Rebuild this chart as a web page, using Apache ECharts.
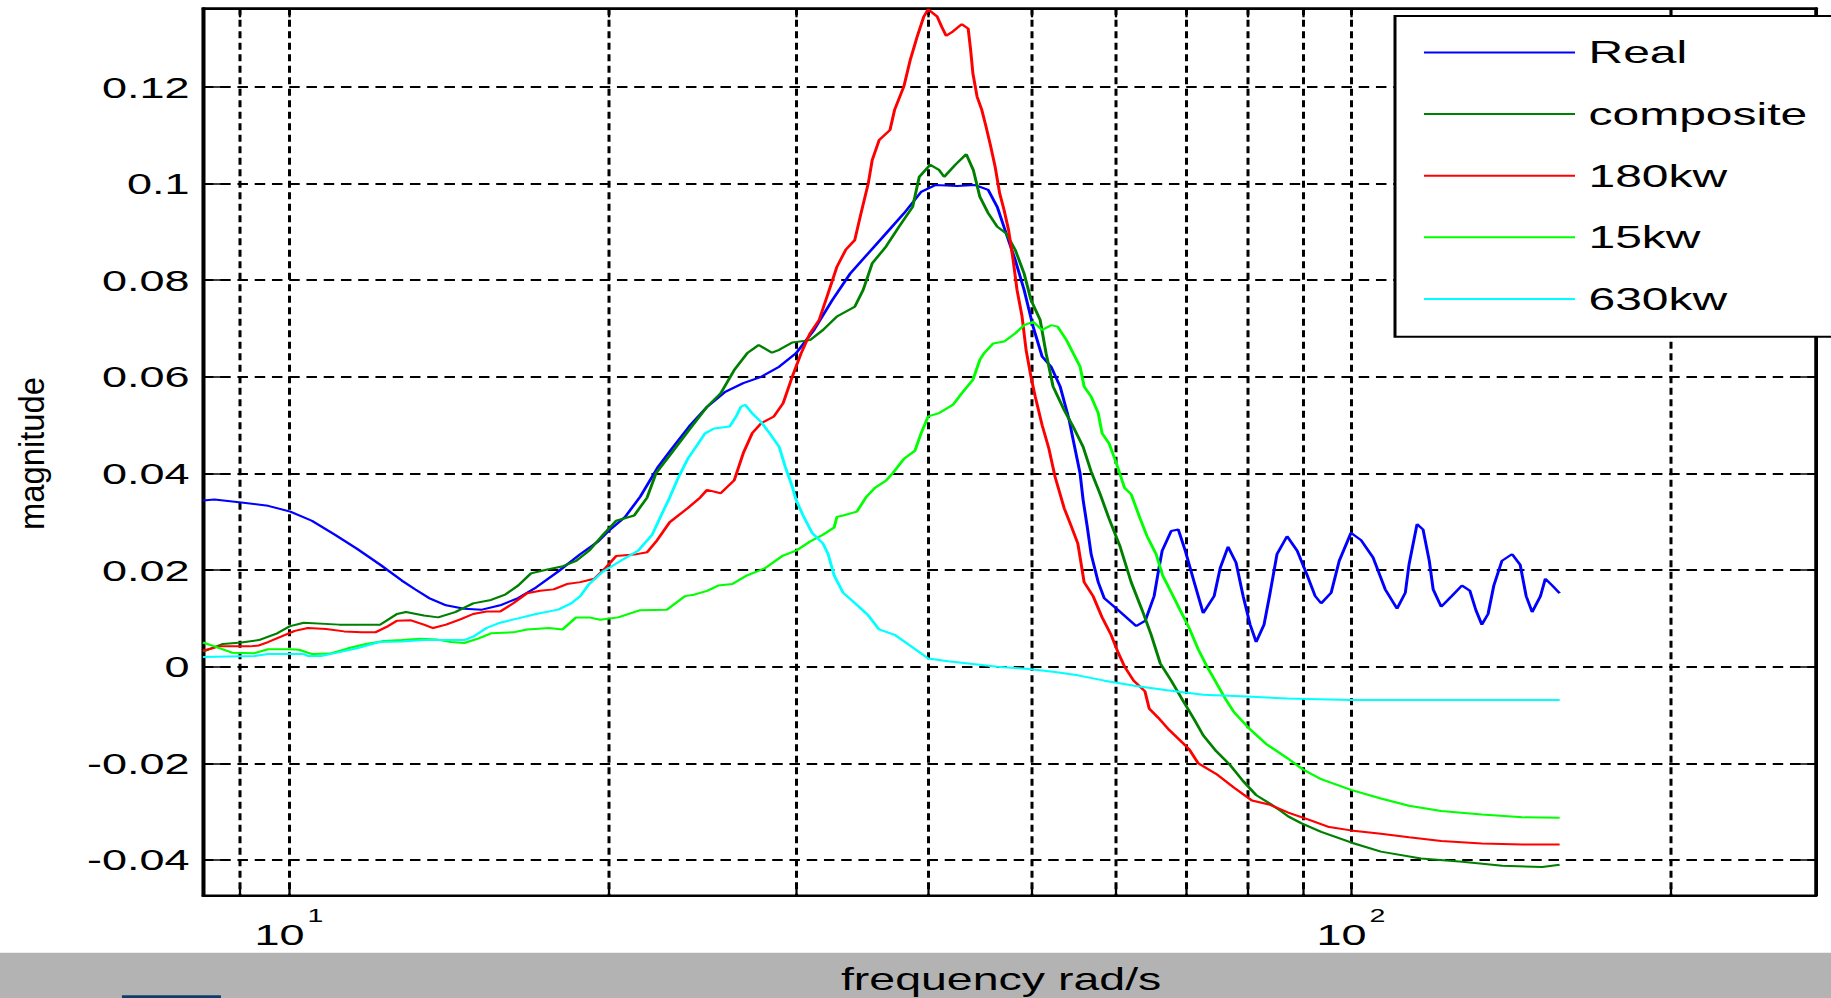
<!DOCTYPE html>
<html>

<head>
    <meta charset="utf-8" />
    <title>magnitude</title>
    <script src="https://cdn.jsdelivr.net/npm/echarts@6.0.0/dist/echarts.min.js"></script>
    <style>
        html,
        body {
            margin: 0;
            padding: 0;
            background: #fff;
            overflow: hidden;
        }

        /* the original picture is stretched sideways, so the chart is drawn narrow and widened */
        #main {
            width: 1221px;
            height: 998px;
            transform: scaleX(1.5);
            transform-origin: 0 0;
        }
    </style>
</head>

<body>
    <div id="main"></div>
</body>

<script>
    // axis ticks
    var xGridTicks = [9, 10, 20, 30, 40, 50, 60, 70, 80, 90, 100, 200];
    var xLabelTicks = [10, 100];
    var xLabelExp = ['1', '2'];
    var yTicks = [-0.04, -0.02, 0, 0.02, 0.04, 0.06, 0.08, 0.1, 0.12];

    // [frequency rad/s, magnitude]
    var realData = [
        [8.30, 0.0344], [8.51, 0.0346], [9.02, 0.0340], [9.56, 0.0333], [10.03, 0.0321], [10.51, 0.0302],
        [11.05, 0.0273], [11.59, 0.0244], [12.19, 0.0211], [12.78, 0.0178], [13.15, 0.0160], [13.55, 0.0142],
        [14.06, 0.0127], [14.62, 0.0120], [15.20, 0.0118], [15.81, 0.0127], [16.44, 0.0142], [17.09, 0.0164],
        [17.93, 0.0197], [18.81, 0.0233], [19.55, 0.0259], [20.0, 0.0281], [20.73, 0.0310], [21.42, 0.0352],
        [22.27, 0.0414], [22.90, 0.0449], [23.81, 0.0497], [24.76, 0.0538], [25.75, 0.0569], [26.78, 0.0587],
        [27.84, 0.0600], [28.95, 0.0621], [30.03, 0.0649], [31.22, 0.0697], [32.48, 0.0759], [33.77, 0.0814],
        [35.12, 0.0856], [36.50, 0.0897], [37.96, 0.0939], [39.38, 0.0983], [40.60, 0.0997], [42.58, 0.0995],
        [44.29, 0.0997], [45.54, 0.0987], [46.44, 0.0952], [47.35, 0.0897], [48.29, 0.0842], [49.23, 0.0780],
        [50.20, 0.0704], [51.19, 0.0642], [52.20, 0.0621], [53.23, 0.0580], [54.28, 0.0511], [54.75, 0.0470],
        [55.58, 0.0400], [55.95, 0.0345], [56.44, 0.0291], [56.93, 0.0233], [57.81, 0.0175], [58.56, 0.0142],
        [60.37, 0.0117], [62.78, 0.0084], [64.02, 0.0095], [65.26, 0.0146], [65.86, 0.0197], [66.41, 0.0240],
        [67.72, 0.0281], [68.77, 0.0284], [69.82, 0.0240], [71.18, 0.0175], [72.58, 0.0111], [74.33, 0.0146],
        [75.31, 0.0204], [76.61, 0.0248], [77.95, 0.0215], [79.15, 0.0146], [80.36, 0.0087], [81.42, 0.0051],
        [82.82, 0.0087], [83.92, 0.0153], [85.18, 0.0233], [87.06, 0.0270], [88.99, 0.0240], [90.94, 0.0189],
        [92.54, 0.0146], [93.74, 0.0131], [95.79, 0.0153], [97.48, 0.0219], [100.0, 0.0277], [102.2, 0.0262],
        [104.9, 0.0226], [107.7, 0.0160], [110.5, 0.0120], [112.5, 0.0153], [113.4, 0.0211], [115.4, 0.0295],
        [116.9, 0.0284], [118.5, 0.0219], [119.5, 0.0160], [121.6, 0.0124], [124.4, 0.0146], [127.2, 0.0168],
        [129.4, 0.0157], [131.1, 0.0117], [132.8, 0.0087], [134.6, 0.0109], [136.3, 0.0168], [138.7, 0.0219],
        [141.8, 0.0233], [144.3, 0.0211], [146.2, 0.0146], [148.1, 0.0113], [150.8, 0.0146], [152.4, 0.0182],
        [154.7, 0.0168], [157.2, 0.0152]
    ];

    var compositeData = [
        [8.30, 0.0031], [8.67, 0.0047], [9.02, 0.0050], [9.37, 0.0055], [9.75, 0.0069], [10.03, 0.0084],
        [10.33, 0.0091], [11.15, 0.0087], [12.19, 0.0087], [12.64, 0.0109], [12.89, 0.0113], [13.40, 0.0106],
        [13.82, 0.0102], [14.34, 0.0113], [14.91, 0.0131], [15.50, 0.0138], [15.98, 0.0149], [16.44, 0.0168],
        [16.90, 0.0193], [17.43, 0.0200], [18.12, 0.0208], [18.64, 0.0219], [19.17, 0.0240], [19.76, 0.0273],
        [20.33, 0.0302], [21.14, 0.0313], [21.74, 0.0350], [22.17, 0.0401], [22.83, 0.0437], [23.81, 0.0490],
        [24.76, 0.0538], [25.50, 0.0566], [26.26, 0.0614], [27.01, 0.0649], [27.69, 0.0666], [28.50, 0.0650],
        [28.95, 0.0656], [29.78, 0.0671], [30.95, 0.0676], [31.83, 0.0697], [32.81, 0.0725], [34.10, 0.0745],
        [34.73, 0.0780], [35.42, 0.0835], [36.50, 0.0870], [37.54, 0.0911], [38.66, 0.0952], [39.22, 0.1014],
        [40.16, 0.1039], [40.95, 0.1028], [41.40, 0.1014], [42.41, 0.1039], [43.43, 0.1061], [44.10, 0.1028],
        [44.72, 0.0973], [45.54, 0.0939], [46.44, 0.0911], [47.35, 0.0897], [48.29, 0.0863], [49.23, 0.0814],
        [49.97, 0.0759], [50.97, 0.0718], [51.63, 0.0649], [52.42, 0.0580], [53.70, 0.0531], [54.75, 0.0497],
        [55.95, 0.0455], [56.93, 0.0404], [58.06, 0.0357], [59.19, 0.0306], [60.63, 0.0248], [62.09, 0.0175],
        [63.59, 0.0117], [64.84, 0.0066], [66.13, 0.0007], [67.72, -0.0029], [69.58, -0.0073], [71.18, -0.0109],
        [72.58, -0.0142], [74.66, -0.0175], [76.97, -0.0204], [79.15, -0.0237], [81.42, -0.0266], [83.92, -0.0284],
        [85.94, -0.0299], [87.27, -0.0310], [89.74, -0.0324], [93.74, -0.0342], [100.0, -0.0364], [106.7, -0.0383],
        [116.4, -0.0397], [127.3, -0.0404], [138.8, -0.0412], [151.4, -0.0415], [157.2, -0.0410]
    ];

    var kw180Data = [
        [8.30, 0.0033], [8.60, 0.0042], [9.19, 0.0042], [9.37, 0.0044], [9.56, 0.0051], [9.83, 0.0062],
        [10.13, 0.0074], [10.42, 0.0080], [10.84, 0.0078], [11.27, 0.0073], [11.71, 0.0071], [12.06, 0.0071],
        [12.40, 0.0084], [12.64, 0.0095], [13.03, 0.0096], [13.40, 0.0087], [13.67, 0.0080], [14.06, 0.0087],
        [14.50, 0.0098], [14.91, 0.0109], [15.35, 0.0114], [15.81, 0.0114], [16.26, 0.0131], [16.76, 0.0152],
        [17.24, 0.0157], [17.75, 0.0160], [18.27, 0.0171], [18.81, 0.0175], [19.39, 0.0182], [19.86, 0.0204],
        [20.33, 0.0229], [21.14, 0.0232], [21.74, 0.0237], [22.17, 0.0259], [22.83, 0.0299], [23.74, 0.0328],
        [24.39, 0.0350], [24.76, 0.0366], [25.50, 0.0359], [26.26, 0.0386], [26.78, 0.0442], [27.30, 0.0483],
        [27.84, 0.0504], [28.62, 0.0518], [29.19, 0.0545], [29.78, 0.0600], [30.36, 0.0649], [30.95, 0.0690],
        [31.57, 0.0718], [32.19, 0.0773], [32.81, 0.0828], [33.44, 0.0863], [34.10, 0.0883], [34.57, 0.0939],
        [35.12, 0.1001], [35.42, 0.1049], [35.95, 0.1090], [36.81, 0.1111], [37.18, 0.1153], [37.93, 0.1201],
        [38.46, 0.1256], [39.04, 0.1304], [39.61, 0.1346], [39.98, 0.1361], [40.77, 0.1346], [41.17, 0.1325],
        [41.58, 0.1306], [42.19, 0.1315], [43.01, 0.1330], [43.61, 0.1321], [43.84, 0.1277], [44.06, 0.1228],
        [44.46, 0.1180], [44.91, 0.1153], [45.33, 0.1118], [45.79, 0.1077], [46.23, 0.1035], [46.69, 0.0980],
        [47.14, 0.0945], [47.60, 0.0904], [48.07, 0.0842], [48.48, 0.0780], [49.01, 0.0725], [49.44, 0.0656],
        [49.97, 0.0600], [50.42, 0.0560], [51.19, 0.0500], [51.94, 0.0452], [52.65, 0.0393], [53.70, 0.0328],
        [54.52, 0.0291], [55.31, 0.0255], [56.07, 0.0175], [57.17, 0.0146], [58.30, 0.0102], [59.44, 0.0066],
        [60.37, 0.0029], [61.21, 0.0000], [62.42, -0.0029], [63.97, -0.0051], [64.57, -0.0087], [65.86, -0.0106],
        [67.42, -0.0131], [69.58, -0.0160], [70.41, -0.0171], [71.80, -0.0200], [74.66, -0.0222], [77.65, -0.0251],
        [80.67, -0.0277], [83.92, -0.0286], [87.27, -0.0302], [91.36, -0.0317], [95.39, -0.0332], [100.0, -0.0339],
        [106.7, -0.0346], [113.4, -0.0353], [121.6, -0.0361], [132.8, -0.0366], [145.0, -0.0368], [157.2, -0.0368]
    ];

    var kw15Data = [
        [8.30, 0.0050], [8.51, 0.0042], [8.84, 0.0029], [9.28, 0.0028], [9.56, 0.0036], [10.03, 0.0036],
        [10.22, 0.0035], [10.52, 0.0026], [10.93, 0.0027], [11.37, 0.0038], [11.82, 0.0047], [12.29, 0.0053],
        [12.78, 0.0055], [13.29, 0.0058], [13.80, 0.0056], [14.21, 0.0051], [14.62, 0.0049], [15.07, 0.0058],
        [15.50, 0.0069], [16.26, 0.0071], [16.76, 0.0077], [17.58, 0.0080], [18.10, 0.0077], [18.64, 0.0102],
        [19.17, 0.0102], [19.64, 0.0097], [20.42, 0.0102], [21.42, 0.0117], [22.70, 0.0118], [23.60, 0.0146],
        [24.07, 0.0149], [24.76, 0.0157], [25.37, 0.0168], [26.15, 0.0171], [27.01, 0.0189], [28.08, 0.0204],
        [29.19, 0.0230], [30.03, 0.0240], [30.95, 0.0259], [31.83, 0.0273], [32.61, 0.0288], [32.81, 0.0310],
        [33.25, 0.0313], [34.26, 0.0321], [34.93, 0.0350], [35.61, 0.0370], [36.48, 0.0385], [37.01, 0.0400],
        [37.93, 0.0430], [38.85, 0.0447], [39.38, 0.0483], [39.98, 0.0518], [40.95, 0.0525], [42.19, 0.0542],
        [43.01, 0.0566], [44.06, 0.0594], [44.72, 0.0635], [45.14, 0.0649], [46.03, 0.0669], [47.14, 0.0673],
        [48.29, 0.0690], [49.23, 0.0707], [50.20, 0.0714], [51.19, 0.0697], [52.20, 0.0707], [52.94, 0.0704],
        [53.97, 0.0676], [54.75, 0.0649], [55.58, 0.0621], [56.07, 0.0580], [56.93, 0.0559], [57.81, 0.0525],
        [58.30, 0.0483], [59.19, 0.0462], [59.70, 0.0440], [60.37, 0.0410], [61.21, 0.0370], [62.09, 0.0357],
        [63.32, 0.0306], [64.27, 0.0270], [65.54, 0.0233], [66.47, 0.0189], [67.76, 0.0153], [69.05, 0.0117],
        [70.41, 0.0080], [71.80, 0.0036], [73.19, 0.0000], [74.66, -0.0033], [76.14, -0.0066], [77.65, -0.0095],
        [80.36, -0.0130], [83.20, -0.0160], [87.06, -0.0189], [90.13, -0.0213], [93.74, -0.0233], [100.0, -0.0255],
        [106.7, -0.0273], [113.4, -0.0288], [121.6, -0.0299], [132.8, -0.0306], [145.0, -0.0312], [157.2, -0.0313]
    ];

    var kw630Data = [
        [8.30, 0.0020], [9.28, 0.0022], [9.56, 0.0026], [10.33, 0.0026], [10.42, 0.0022], [10.72, 0.0022],
        [11.05, 0.0028], [11.59, 0.0038], [12.17, 0.0051], [12.78, 0.0052], [13.40, 0.0055], [14.06, 0.0055],
        [14.62, 0.0055], [14.91, 0.0062], [15.35, 0.0080], [15.81, 0.0091], [16.44, 0.0100], [17.09, 0.0109],
        [17.93, 0.0118], [18.44, 0.0131], [18.81, 0.0146], [19.17, 0.0171], [19.76, 0.0197], [20.53, 0.0219],
        [21.32, 0.0240], [21.98, 0.0273], [22.41, 0.0313], [22.83, 0.0350], [23.28, 0.0393], [23.74, 0.0430],
        [24.17, 0.0455], [24.65, 0.0483], [25.14, 0.0493], [26.00, 0.0497], [26.37, 0.0518], [26.64, 0.0538],
        [26.89, 0.0542], [27.29, 0.0525], [27.82, 0.0507], [28.36, 0.0483], [28.95, 0.0455], [29.33, 0.0414],
        [29.78, 0.0373], [30.03, 0.0345], [30.49, 0.0313], [31.09, 0.0277], [31.83, 0.0255], [32.19, 0.0233],
        [32.61, 0.0189], [33.25, 0.0153], [34.26, 0.0128], [35.12, 0.0106], [35.95, 0.0077], [37.18, 0.0066],
        [38.66, 0.0040], [39.98, 0.0017], [41.75, 0.0011], [43.84, 0.0006], [46.44, 0.0000], [49.72, -0.0005],
        [52.65, -0.0011], [55.31, -0.0018], [58.61, -0.0029], [62.73, -0.0040], [67.14, -0.0049], [72.58, -0.0058],
        [79.84, -0.0062], [87.10, -0.0066], [100.0, -0.0069], [157.2, -0.0069]
    ];

    var seriesNames = ['Real', 'composite', '180kw', '15kw', '630kw'];
    var seriesColors = ['#0000ff', '#008000', '#ff0000', '#00ff00', '#00ffff'];
    var seriesData = [realData, compositeData, kw180Data, kw15Data, kw630Data];

    var FONT = 'Liberation Sans, Arial, Helvetica, sans-serif';
    var gridLine = { color: '#000', width: 2, type: [7, 4.5] };

    var myChart = echarts.init(document.getElementById('main'), null, { renderer: 'svg' });

    var series = [];
    for (var i = 0; i < seriesNames.length; i++) {
        series.push({
            name: seriesNames[i],
            type: 'line',
            data: seriesData[i],
            showSymbol: false,
            symbol: 'none',
            animation: false,
            z: 2 + i,
            emphasis: { disabled: true },
            itemStyle: { color: seriesColors[i] },
            lineStyle: { color: seriesColors[i], width: 2 }
        });
    }

    var option = {
        backgroundColor: '#fff',
        animation: false,
        grid: {
            left: 135.3,
            right: 10.5,
            top: 8.3,
            bottom: 102.4,
            show: true,
            borderColor: '#000',
            borderWidth: 2,
            outerBoundsMode: 'none'
        },
        legend: {
            data: seriesNames,
            orient: 'vertical',
            left: 930,
            top: 16,
            padding: [20.5, 40, 21.8, 19.3],
            itemWidth: 100.7,
            itemHeight: 2,
            itemGap: 29.6,
            icon: 'rect',
            selectedMode: false,
            backgroundColor: '#fff',
            borderColor: '#000',
            borderWidth: 2,
            textStyle: {
                fontFamily: FONT,
                fontSize: 32,
                lineHeight: 32,
                color: '#000',
                padding: [0, 0, 0, 4]
            }
        },
        xAxis: [
            {
                type: 'log',
                logBase: 10,
                min: 8.3,
                max: 273.9,
                position: 'bottom',
                name: 'frequency rad/s',
                nameLocation: 'middle',
                nameGap: 68,
                nameTextStyle: {
                    fontFamily: FONT,
                    fontSize: 31,
                    color: '#000',
                    padding: [0, 11, 0, 0]
                },
                axisLine: { onZero: false, lineStyle: { color: '#000', width: 2 } },
                axisTick: {
                    inside: true,
                    length: 9,
                    customValues: xGridTicks,
                    lineStyle: { color: '#000', width: 1.5 }
                },
                axisLabel: {
                    customValues: xLabelTicks,
                    margin: 10,
                    formatter: function (v) {
                        var k = 0;
                        for (var j = 0; j < xLabelTicks.length; j++) {
                            if (Math.abs(xLabelTicks[j] - v) < 1e-6 * xLabelTicks[j]) k = j;
                        }
                        return '{b|10}{s|' + xLabelExp[k] + '}';
                    },
                    rich: {
                        b: { fontFamily: FONT, fontSize: 30, color: '#000', lineHeight: 57 },
                        s: { fontFamily: FONT, fontSize: 19, color: '#000', lineHeight: 19, verticalAlign: 'top', padding: [0, 0, 0, 2] }
                    }
                },
                splitLine: { show: true, lineStyle: gridLine }
            },
            {
                type: 'log',
                logBase: 10,
                min: 8.3,
                max: 273.9,
                position: 'top',
                axisLine: { onZero: false, lineStyle: { color: '#000', width: 2 } },
                axisTick: {
                    inside: true,
                    length: 9,
                    customValues: xGridTicks,
                    lineStyle: { color: '#000', width: 1.5 }
                },
                axisLabel: { show: false },
                splitLine: { show: false }
            }
        ],
        yAxis: [
            {
                type: 'value',
                min: -0.0474,
                max: 0.1363,
                axisLine: { show: true, onZero: false, lineStyle: { color: '#000', width: 2 } },
                axisTick: {
                    show: true,
                    inside: true,
                    length: 13,
                    customValues: yTicks,
                    lineStyle: { color: '#000', width: 1.5 }
                },
                axisLabel: {
                    customValues: yTicks,
                    margin: 9,
                    fontFamily: FONT,
                    fontSize: 30,
                    color: '#000',
                    formatter: function (v) {
                        return String(+v.toFixed(3));
                    }
                },
                splitLine: { show: true, lineStyle: gridLine }
            },
            {
                type: 'value',
                min: -0.0474,
                max: 0.1363,
                position: 'right',
                axisLine: { show: true, onZero: false, lineStyle: { color: '#000', width: 2 } },
                axisTick: {
                    show: true,
                    inside: true,
                    length: 13,
                    customValues: yTicks,
                    lineStyle: { color: '#000', width: 1.5 }
                },
                axisLabel: { show: false },
                splitLine: { show: false }
            }
        ],
        graphic: [
            {
                type: 'rect',
                z: -1,
                silent: true,
                shape: { x: 0, y: 952.7, width: 1221, height: 46 },
                style: { fill: '#b3b3b3' }
            },
            {
                type: 'rect',
                silent: true,
                shape: { x: 81.3, y: 995.3, width: 66, height: 3 },
                style: { fill: '#0f3c68' }
            },
            {
                // y axis title, drawn narrow like the original
                type: 'text',
                silent: true,
                x: 21.5,
                y: 453.5,
                rotation: Math.PI / 2,
                scaleX: 1.425,
                style: {
                    text: 'magnitude',
                    font: '23px ' + FONT,
                    fill: '#000',
                    textAlign: 'center',
                    textVerticalAlign: 'middle',
                    align: 'center',
                    verticalAlign: 'middle'
                }
            }
        ],
        series: series
    };

    myChart.setOption(option);
</script>

</html>
